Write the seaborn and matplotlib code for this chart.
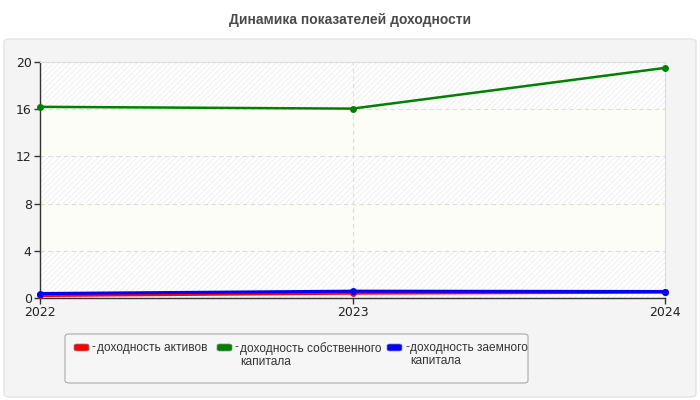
import numpy as np
import pandas as pd
import matplotlib
matplotlib.use("Agg")
import matplotlib.pyplot as plt
from matplotlib.patches import FancyBboxPatch
import seaborn as sns

years = [2022, 2023, 2024]
series_names = [
    "доходность активов",
    "доходность собственного\nкапитала",
    "доходность заемного\nкапитала",
]
roa = [0.22, 0.42, 0.5]
roe = [16.2, 16.05, 19.5]
rod = [0.38, 0.58, 0.55]
colors = ["#ff0000", "#008000", "#0000ff"]
widths = [2.4, 1.8, 2.2]

df = pd.DataFrame({
    "year": years * 3,
    "value": roa + roe + rod,
    "series": [series_names[0]] * 3 + [series_names[1]] * 3 + [series_names[2]] * 3,
})

sns.set_theme(style="white")
plt.rcParams["font.family"] = ["DejaVu Sans"]
plt.rcParams["hatch.color"] = "#ececec"
plt.rcParams["hatch.linewidth"] = 0.6

fig = plt.figure(figsize=(7, 4), dpi=100, facecolor="white")

# outer panel
panel = FancyBboxPatch((4 / 700, 3 / 400), 692 / 700, 358 / 400,
                       boxstyle="round,pad=0,rounding_size=0.008",
                       transform=fig.transFigure, facecolor="#f4f4f4",
                       edgecolor="#e4e4e4", linewidth=1, zorder=-5)
fig.patches.append(panel)

fig.text(0.5, 1 - 20 / 400, "Динамика показателей доходности", ha="center", va="center",
         fontsize=10, fontweight="bold", color="#4a4a4a", family="Liberation Sans")

ax = fig.add_axes([40 / 700, 1 - 298 / 400, 625 / 700, 236 / 400])
ax.set_zorder(2)
ax.set_facecolor("white")

# alternating bands
for lo in range(0, 20, 4):
    if (lo // 4) % 2 == 0:
        ax.axhspan(lo, lo + 4, facecolor="white", hatch="//////", edgecolor="#ececec", lw=0, zorder=0)
    else:
        ax.axhspan(lo, lo + 4, facecolor="#fdfdf8", lw=0, zorder=0)

for i, name in enumerate(series_names):
    sub = df[df["series"] == name]
    sns.lineplot(data=sub, x="year", y="value", color=colors[i], lw=widths[i],
                 marker="o", markersize=5, markeredgewidth=0, ax=ax, zorder=3 + i,
                 legend=False)

ax.set_xlim(2022, 2024)
ax.set_ylim(0, 20)
ax.set_xticks(years)
ax.set_xticklabels([str(y) for y in years])
ax.set_yticks(range(0, 21, 4))
ax.set_xlabel("")
ax.set_ylabel("")
ax.grid(True, axis="both", color="#dddddd", linestyle=(0, (4, 3)), lw=0.8, zorder=1)
ax.set_axisbelow(True)
for s in ["top", "right"]:
    ax.spines[s].set_color("#dddddd")
    ax.spines[s].set_linewidth(0.8)
for s in ["left", "bottom"]:
    ax.spines[s].set_color("#333333")
    ax.spines[s].set_linewidth(1)
ax.tick_params(axis="both", length=4, width=1, color="#333333", labelsize=9,
               labelcolor="#222222", pad=2, left=True, bottom=True)
for lbl in ax.get_xticklabels() + ax.get_yticklabels():
    lbl.set_family("DejaVu Sans")
for line in ax.lines:
    line.set_clip_on(False)

# legend box
leg = FancyBboxPatch((65 / 700, 1 - 383 / 400), 463 / 700, 49 / 400,
                     boxstyle="round,pad=0,rounding_size=0.006",
                     transform=fig.transFigure, facecolor="#f6f6f6",
                     edgecolor="#aaaaaa", linewidth=0.8, zorder=1)
fig.patches.append(leg)
legend_font = "Liberation Sans"
legend_x = [74, 217, 387]
for i, name in enumerate(series_names):
    x0 = legend_x[i]
    sw = FancyBboxPatch((x0 / 700, 1 - 351 / 400), 15 / 700, 7 / 400,
                        boxstyle="round,pad=0,rounding_size=0.004",
                        transform=fig.transFigure, facecolor=colors[i],
                        edgecolor="#888888", linewidth=0.5, zorder=2)
    fig.patches.append(sw)
    fig.text((x0 + 18) / 700, 1 - 347 / 400, "-", ha="left", va="center",
             fontsize=8.6, color="#333333", family=legend_font)
    fig.text((x0 + 23) / 700, 1 - 342 / 400, name, ha="left", va="top",
             fontsize=8.6, color="#333333", family=legend_font, linespacing=1.15)

fig.savefig("out.png", dpi=100, facecolor="white")
